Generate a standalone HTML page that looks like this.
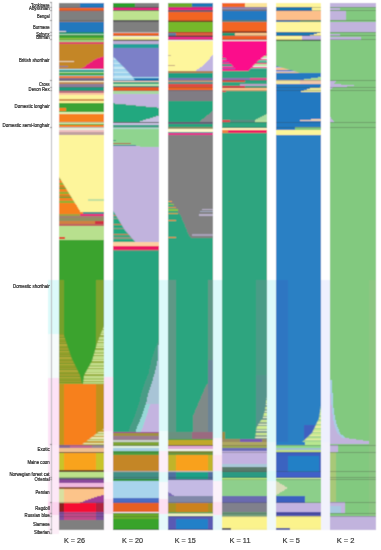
<!DOCTYPE html>
<html><head><meta charset="utf-8"><style>
html,body{margin:0;padding:0;background:#fff;width:381px;height:550px;overflow:hidden}
svg{display:block}
.lab text{font-family:"Liberation Sans",sans-serif;font-size:5.1px;fill:#202020;stroke:#202020;stroke-width:0.2px}
.kl text{font-family:"Liberation Sans",sans-serif;font-size:7.5px;fill:#333;stroke:#333;stroke-width:0.2px}
</style></head><body>
<svg width="381" height="550" viewBox="0 0 381 550" shape-rendering="crispEdges">
<defs><filter id="bl" x="0" y="0" width="1" height="1"><feConvolveMatrix order="3" kernelMatrix="0.0938 0.3062 0.0938 0.3062 1.0000 0.3062 0.0938 0.3062 0.0938" divisor="2.6000" edgeMode="duplicate" preserveAlpha="true"/></filter></defs>
<g filter="url(#bl)">
<rect width="381" height="550" fill="#fff"/>
<g><rect x="47.5" y="280" width="11.6" height="54" fill="#dcfafa"/>
<rect x="47.5" y="334" width="11.6" height="44" fill="#f6fbfb"/>
<rect x="47.5" y="378" width="11.6" height="67" fill="#fde2f6"/>
<rect x="47.5" y="445" width="11.6" height="57" fill="#fde8f7"/>
<rect x="47.5" y="502" width="11.6" height="13" fill="#fcd4ee"/>
<rect x="47.5" y="515" width="11.6" height="19" fill="#fdeef8"/>
<rect x="104.3" y="280" width="9.0" height="97" fill="#dcfafa"/>
<rect x="104.3" y="377" width="9.0" height="54" fill="#fde2f6"/>
<rect x="104.3" y="431" width="9.0" height="41" fill="#fdf2fa"/>
<rect x="104.3" y="472" width="9.0" height="10" fill="#fafafa"/>
<rect x="104.3" y="482" width="9.0" height="17" fill="#fdeef8"/>
<rect x="104.3" y="499" width="9.0" height="15" fill="#fcdcf0"/>
<rect x="104.3" y="514" width="9.0" height="16" fill="#fdf8fc"/>
<rect x="158.5" y="280" width="9.3" height="151" fill="#dcfafa"/>
<rect x="158.5" y="431" width="9.3" height="20" fill="#eefbfb"/>
<rect x="158.5" y="451" width="9.3" height="21" fill="#fdeef8"/>
<rect x="158.5" y="472" width="9.3" height="10" fill="#e0fafa"/>
<rect x="158.5" y="482" width="9.3" height="17" fill="#f8f8fc"/>
<rect x="158.5" y="499" width="9.3" height="15" fill="#fde0f2"/>
<rect x="158.5" y="514" width="9.3" height="16" fill="#e6fafb"/>
<rect x="213.0" y="280" width="8.9" height="158" fill="#dcfafa"/>
<rect x="213.0" y="438" width="8.9" height="17" fill="#fbf4fa"/>
<rect x="213.0" y="455" width="8.9" height="16" fill="#fde6f4"/>
<rect x="213.0" y="471" width="8.9" height="10" fill="#dcfafa"/>
<rect x="213.0" y="481" width="8.9" height="21" fill="#fcf2fa"/>
<rect x="213.0" y="502" width="8.9" height="13" fill="#fde0f2"/>
<rect x="213.0" y="515" width="8.9" height="15" fill="#e4f8fa"/>
<rect x="267.1" y="280" width="8.9" height="162" fill="#dcfafa"/>
<rect x="267.1" y="442" width="8.9" height="29" fill="#eaf8fa"/>
<rect x="267.1" y="471" width="8.9" height="10" fill="#dcfafa"/>
<rect x="267.1" y="481" width="8.9" height="49" fill="#f0f8fa"/>
<rect x="321.2" y="280" width="9.1" height="162" fill="#eef0fe"/>
<rect x="321.2" y="442" width="9.1" height="88" fill="#f2f2fc"/></g>
<rect x="51" y="2.9" width="1" height="530.8" fill="#b4b4b8"/>
<g><rect x="50.2" y="2.45" width="1.8" height="0.9" fill="#6a6a6a"/>
<rect x="50.2" y="6.65" width="1.8" height="0.9" fill="#6a6a6a"/>
<rect x="50.2" y="9.65" width="1.8" height="0.9" fill="#6a6a6a"/>
<rect x="50.2" y="20.35" width="1.8" height="0.9" fill="#6a6a6a"/>
<rect x="50.2" y="32.15" width="1.8" height="0.9" fill="#6a6a6a"/>
<rect x="50.2" y="35.45" width="1.8" height="0.9" fill="#6a6a6a"/>
<rect x="50.2" y="39.45" width="1.8" height="0.9" fill="#6a6a6a"/>
<rect x="50.2" y="80.15" width="1.8" height="0.9" fill="#6a6a6a"/>
<rect x="50.2" y="86.75" width="1.8" height="0.9" fill="#6a6a6a"/>
<rect x="50.2" y="90.35" width="1.8" height="0.9" fill="#6a6a6a"/>
<rect x="50.2" y="121.55" width="1.8" height="0.9" fill="#6a6a6a"/>
<rect x="50.2" y="126.85" width="1.8" height="0.9" fill="#6a6a6a"/>
<rect x="50.2" y="444.35" width="1.8" height="0.9" fill="#6a6a6a"/>
<rect x="50.2" y="451.55" width="1.8" height="0.9" fill="#6a6a6a"/>
<rect x="50.2" y="470.55" width="1.8" height="0.9" fill="#6a6a6a"/>
<rect x="50.2" y="477.05" width="1.8" height="0.9" fill="#6a6a6a"/>
<rect x="50.2" y="479.15" width="1.8" height="0.9" fill="#6a6a6a"/>
<rect x="50.2" y="501.85" width="1.8" height="0.9" fill="#6a6a6a"/>
<rect x="50.2" y="512.95" width="1.8" height="0.9" fill="#6a6a6a"/>
<rect x="50.2" y="515.85" width="1.8" height="0.9" fill="#6a6a6a"/>
<rect x="50.2" y="529.05" width="1.8" height="0.9" fill="#6a6a6a"/>
<rect x="50.2" y="533.05" width="1.8" height="0.9" fill="#6a6a6a"/></g>
<g><rect x="59.10" y="2.90" width="45.20" height="4.60" fill="#7f7f7f"/>
<rect x="80.30" y="2.90" width="24.00" height="4.60" fill="#2178bd"/>
<rect x="59.10" y="7.50" width="45.20" height="3.00" fill="#f26522"/>
<rect x="59.10" y="10.50" width="45.20" height="1.50" fill="#86787f"/>
<rect x="59.10" y="12.00" width="45.20" height="8.50" fill="#7f7f7f"/>
<rect x="59.10" y="20.50" width="45.20" height="1.30" fill="#8a7a70"/>
<rect x="59.10" y="21.80" width="45.20" height="8.70" fill="#2178bd"/>
<rect x="59.10" y="30.50" width="45.20" height="1.80" fill="#2178bd"/>
<rect x="59.10" y="30.50" width="6.90" height="1.80" fill="#d8d0d8"/>
<rect x="59.10" y="32.30" width="45.20" height="1.40" fill="#1fa080"/>
<rect x="59.10" y="33.70" width="45.20" height="1.30" fill="#a8d8a8"/>
<rect x="59.10" y="35.00" width="45.20" height="2.80" fill="#3aa335"/>
<rect x="59.10" y="37.80" width="45.20" height="2.20" fill="#8cc63f"/>
<rect x="59.10" y="40.00" width="45.20" height="2.20" fill="#9ed080"/>
<rect x="59.10" y="42.20" width="45.20" height="1.40" fill="#e0406a"/>
<rect x="59.10" y="43.60" width="45.20" height="25.60" fill="#c48628"/>
<rect x="59.10" y="69.20" width="45.20" height="1.10" fill="#a8e0f0"/>
<rect x="59.10" y="70.30" width="45.20" height="1.30" fill="#1a9a8a"/>
<rect x="59.10" y="71.60" width="45.20" height="1.10" fill="#b0e0a0"/>
<rect x="59.10" y="72.70" width="45.20" height="2.30" fill="#3aa335"/>
<rect x="59.10" y="75.00" width="45.20" height="1.30" fill="#70c0c0"/>
<rect x="59.10" y="76.30" width="45.20" height="1.90" fill="#f08030"/>
<rect x="59.10" y="78.20" width="45.20" height="2.30" fill="#7a6a8a"/>
<rect x="59.10" y="80.50" width="45.20" height="1.80" fill="#fff8d0"/>
<rect x="59.10" y="82.30" width="45.20" height="2.10" fill="#c08850"/>
<rect x="59.10" y="84.40" width="45.20" height="2.20" fill="#8a7a9a"/>
<rect x="59.10" y="86.60" width="45.20" height="4.40" fill="#1a9e80"/>
<rect x="59.10" y="91.00" width="45.20" height="2.20" fill="#c07080"/>
<rect x="59.10" y="93.20" width="45.20" height="2.10" fill="#fcc8a0"/>
<rect x="59.10" y="95.30" width="45.20" height="3.70" fill="#fdf59b"/>
<rect x="59.10" y="99.00" width="45.20" height="1.90" fill="#d09050"/>
<rect x="59.10" y="100.90" width="45.20" height="1.70" fill="#fdf59b"/>
<rect x="59.10" y="102.60" width="45.20" height="9.40" fill="#3aa335"/>
<rect x="59.10" y="112.00" width="45.20" height="1.50" fill="#e0f0b0"/>
<rect x="59.10" y="113.50" width="45.20" height="8.00" fill="#f7801c"/>
<rect x="59.10" y="121.50" width="45.20" height="2.20" fill="#d8f0b0"/>
<rect x="59.10" y="123.70" width="45.20" height="1.40" fill="#3aa335"/>
<rect x="59.10" y="125.10" width="45.20" height="2.20" fill="#f7801c"/>
<rect x="59.10" y="127.30" width="45.20" height="2.20" fill="#e8f0e0"/>
<rect x="59.10" y="129.50" width="45.20" height="2.90" fill="#f0c0c0"/>
<rect x="59.10" y="132.40" width="45.20" height="2.20" fill="#c0a0a0"/>
<rect x="59.10" y="134.60" width="45.20" height="77.20" fill="#fdf59b"/>
<rect x="59.10" y="211.80" width="45.20" height="2.20" fill="#178f8f"/>
<rect x="59.10" y="211.80" width="23.90" height="2.20" fill="#f7801c"/>
<rect x="59.10" y="214.00" width="45.20" height="2.00" fill="#e8177d"/>
<rect x="59.10" y="214.00" width="20.90" height="2.00" fill="#a0a040"/>
<rect x="59.10" y="216.00" width="45.20" height="2.30" fill="#a08070"/>
<rect x="59.10" y="218.30" width="45.20" height="2.90" fill="#909060"/>
<rect x="59.10" y="221.20" width="45.20" height="2.80" fill="#d08040"/>
<rect x="95.00" y="221.20" width="9.30" height="2.80" fill="#d03040"/>
<rect x="59.10" y="224.00" width="45.20" height="1.60" fill="#c06060"/>
<rect x="59.10" y="225.60" width="45.20" height="0.40" fill="#c08040"/>
<rect x="59.10" y="226.00" width="45.20" height="13.50" fill="#b8e08e"/>
<rect x="59.10" y="239.50" width="45.20" height="144.20" fill="#3ba32f"/>
<rect x="59.10" y="383.70" width="45.20" height="61.10" fill="#f7801c"/>
<rect x="59.10" y="383.70" width="4.40" height="61.10" fill="#c0961f"/>
<rect x="96.20" y="383.70" width="8.10" height="61.10" fill="#c0921e"/>
<rect x="59.10" y="444.80" width="45.20" height="2.90" fill="#c06a98"/>
<rect x="59.10" y="444.80" width="10.90" height="2.90" fill="#8a6a9a"/>
<rect x="92.00" y="444.80" width="12.30" height="2.90" fill="#9a8a9a"/>
<rect x="59.10" y="447.70" width="45.20" height="4.30" fill="#f0c090"/>
<rect x="59.10" y="452.00" width="45.20" height="1.00" fill="#806040"/>
<rect x="59.10" y="453.00" width="45.20" height="17.00" fill="#f9a31b"/>
<rect x="59.10" y="453.00" width="4.90" height="17.00" fill="#c8c42a"/>
<rect x="95.60" y="453.00" width="8.70" height="17.00" fill="#c8c42a"/>
<rect x="59.10" y="470.00" width="45.20" height="1.60" fill="#704820"/>
<rect x="59.10" y="471.60" width="45.20" height="6.20" fill="#bce28a"/>
<rect x="59.10" y="477.80" width="45.20" height="1.50" fill="#506070"/>
<rect x="59.10" y="479.30" width="45.20" height="3.90" fill="#8a4a9c"/>
<rect x="59.10" y="483.20" width="45.20" height="3.80" fill="#f0b8e0"/>
<rect x="59.10" y="487.00" width="45.20" height="1.60" fill="#905030"/>
<rect x="59.10" y="488.60" width="45.20" height="13.90" fill="#fcc48a"/>
<rect x="59.10" y="488.60" width="4.90" height="13.90" fill="#d8e0a0"/>
<rect x="59.10" y="502.50" width="45.20" height="0.70" fill="#801020"/>
<rect x="59.10" y="503.20" width="45.20" height="8.50" fill="#f50f33"/>
<rect x="59.10" y="503.20" width="4.90" height="8.50" fill="#8b2020"/>
<rect x="96.00" y="503.20" width="8.30" height="8.50" fill="#b02040"/>
<rect x="59.10" y="511.70" width="45.20" height="8.50" fill="#c04a8a"/>
<rect x="59.10" y="511.70" width="4.90" height="8.50" fill="#8050a0"/>
<rect x="96.00" y="511.70" width="8.30" height="8.50" fill="#8050a0"/>
<rect x="59.10" y="520.20" width="45.20" height="9.30" fill="#7f7f7f"/>
<rect x="59.10" y="529.50" width="45.20" height="0.50" fill="#505050"/>
<polygon points="104.30,56.00 97.00,58.50 92.60,61.00 88.00,64.00 84.00,67.00 80.00,69.20 104.30,69.20" fill="#ec1a78"/>
<rect x="59.10" y="55.50" width="6.90" height="0.80" fill="#e8c8a0"/>
<rect x="59.10" y="58.50" width="10.90" height="0.80" fill="#e0b890"/>
<rect x="59.10" y="61.00" width="14.90" height="0.80" fill="#e8d0b0"/>
<rect x="59.10" y="63.50" width="12.90" height="0.80" fill="#d8a890"/>
<rect x="59.10" y="66.00" width="8.90" height="0.80" fill="#8a7aa0"/>
<rect x="88.00" y="199.40" width="16.30" height="1.60" fill="#c0e0a0"/>
<clipPath id="c89"><polygon points="59.10,177.00 80.30,211.80 59.10,211.80"/></clipPath><g clip-path="url(#c89)">
<rect x="59.10" y="177.00" width="45.20" height="1.50" fill="#c48628"/>
<rect x="59.10" y="178.50" width="45.20" height="1.50" fill="#3aa335"/>
<rect x="59.10" y="180.00" width="45.20" height="1.50" fill="#f7801c"/>
<rect x="59.10" y="181.50" width="45.20" height="1.50" fill="#e08a30"/>
<rect x="59.10" y="183.00" width="45.20" height="1.50" fill="#8cb030"/>
<rect x="59.10" y="184.50" width="45.20" height="1.50" fill="#f7801c"/>
<rect x="59.10" y="186.00" width="45.20" height="1.50" fill="#c48628"/>
<rect x="59.10" y="187.50" width="45.20" height="1.50" fill="#3aa335"/>
<rect x="59.10" y="189.00" width="45.20" height="1.50" fill="#f7801c"/>
<rect x="59.10" y="190.50" width="45.20" height="1.50" fill="#e08a30"/>
<rect x="59.10" y="192.00" width="45.20" height="1.50" fill="#8cb030"/>
<rect x="59.10" y="193.50" width="45.20" height="1.50" fill="#f7801c"/>
<rect x="59.10" y="195.00" width="45.20" height="1.50" fill="#c48628"/>
<rect x="59.10" y="196.50" width="45.20" height="1.50" fill="#3aa335"/>
<rect x="59.10" y="198.00" width="45.20" height="1.50" fill="#f7801c"/>
<rect x="59.10" y="199.50" width="45.20" height="1.50" fill="#e08a30"/>
<rect x="59.10" y="201.00" width="45.20" height="1.50" fill="#8cb030"/>
<rect x="59.10" y="202.50" width="45.20" height="1.50" fill="#f7801c"/>
<rect x="59.10" y="204.00" width="45.20" height="1.50" fill="#c48628"/>
<rect x="59.10" y="205.50" width="45.20" height="1.50" fill="#3aa335"/>
<rect x="59.10" y="207.00" width="45.20" height="1.50" fill="#f7801c"/>
<rect x="59.10" y="208.50" width="45.20" height="1.50" fill="#e08a30"/>
<rect x="59.10" y="210.00" width="45.20" height="1.50" fill="#8cb030"/>
<rect x="59.10" y="211.50" width="45.20" height="0.30" fill="#f7801c"/>
</g>
<polygon points="59.10,203.00 75.00,203.00 80.30,211.80 59.10,211.80" fill="#f7801c"/>
<rect x="59.10" y="108.40" width="6.90" height="2.90" fill="#f7801c"/>
<rect x="59.10" y="236.60" width="5.90" height="2.20" fill="#e02020"/>
<rect x="59.10" y="280.00" width="4.90" height="103.70" fill="#76a02c"/>
<rect x="96.30" y="280.00" width="8.00" height="103.70" fill="#7ca22e"/>
<clipPath id="c120"><polygon points="63.40,334.00 71.50,358.00 80.00,375.60 82.00,383.70 59.10,383.70 59.10,334.00"/></clipPath><g clip-path="url(#c120)">
<rect x="59.10" y="334.00" width="45.20" height="1.30" fill="#8a9a28"/>
<rect x="59.10" y="335.30" width="45.20" height="1.30" fill="#a0a030"/>
<rect x="59.10" y="336.60" width="45.20" height="1.30" fill="#7a9a28"/>
<rect x="59.10" y="337.90" width="45.20" height="1.30" fill="#b0a838"/>
<rect x="59.10" y="339.20" width="45.20" height="1.30" fill="#90a02a"/>
<rect x="59.10" y="340.50" width="45.20" height="1.30" fill="#8a9a28"/>
<rect x="59.10" y="341.80" width="45.20" height="1.30" fill="#a0a030"/>
<rect x="59.10" y="343.10" width="45.20" height="1.30" fill="#7a9a28"/>
<rect x="59.10" y="344.40" width="45.20" height="1.30" fill="#b0a838"/>
<rect x="59.10" y="345.70" width="45.20" height="1.30" fill="#90a02a"/>
<rect x="59.10" y="347.00" width="45.20" height="1.30" fill="#8a9a28"/>
<rect x="59.10" y="348.30" width="45.20" height="1.30" fill="#a0a030"/>
<rect x="59.10" y="349.60" width="45.20" height="1.30" fill="#7a9a28"/>
<rect x="59.10" y="350.90" width="45.20" height="1.30" fill="#b0a838"/>
<rect x="59.10" y="352.20" width="45.20" height="1.30" fill="#90a02a"/>
<rect x="59.10" y="353.50" width="45.20" height="1.30" fill="#8a9a28"/>
<rect x="59.10" y="354.80" width="45.20" height="1.30" fill="#a0a030"/>
<rect x="59.10" y="356.10" width="45.20" height="1.30" fill="#7a9a28"/>
<rect x="59.10" y="357.40" width="45.20" height="1.30" fill="#b0a838"/>
<rect x="59.10" y="358.70" width="45.20" height="1.30" fill="#90a02a"/>
<rect x="59.10" y="360.00" width="45.20" height="1.30" fill="#8a9a28"/>
<rect x="59.10" y="361.30" width="45.20" height="1.30" fill="#a0a030"/>
<rect x="59.10" y="362.60" width="45.20" height="1.30" fill="#7a9a28"/>
<rect x="59.10" y="363.90" width="45.20" height="1.30" fill="#b0a838"/>
<rect x="59.10" y="365.20" width="45.20" height="1.30" fill="#90a02a"/>
<rect x="59.10" y="366.50" width="45.20" height="1.30" fill="#8a9a28"/>
<rect x="59.10" y="367.80" width="45.20" height="1.30" fill="#a0a030"/>
<rect x="59.10" y="369.10" width="45.20" height="1.30" fill="#7a9a28"/>
<rect x="59.10" y="370.40" width="45.20" height="1.30" fill="#b0a838"/>
<rect x="59.10" y="371.70" width="45.20" height="1.30" fill="#90a02a"/>
<rect x="59.10" y="373.00" width="45.20" height="1.30" fill="#8a9a28"/>
<rect x="59.10" y="374.30" width="45.20" height="1.30" fill="#a0a030"/>
<rect x="59.10" y="375.60" width="45.20" height="1.30" fill="#7a9a28"/>
<rect x="59.10" y="376.90" width="45.20" height="1.30" fill="#b0a838"/>
<rect x="59.10" y="378.20" width="45.20" height="1.30" fill="#90a02a"/>
<rect x="59.10" y="379.50" width="45.20" height="1.30" fill="#8a9a28"/>
<rect x="59.10" y="380.80" width="45.20" height="1.30" fill="#a0a030"/>
<rect x="59.10" y="382.10" width="45.20" height="1.30" fill="#7a9a28"/>
<rect x="59.10" y="383.40" width="45.20" height="0.30" fill="#b0a838"/>
</g>
<clipPath id="c161"><polygon points="104.30,325.00 97.00,343.60 92.00,361.00 84.00,375.60 83.00,383.70 104.30,383.70"/></clipPath><g clip-path="url(#c161)">
<rect x="59.10" y="325.00" width="45.20" height="1.30" fill="#c8e090"/>
<rect x="59.10" y="326.30" width="45.20" height="1.30" fill="#a8c868"/>
<rect x="59.10" y="327.60" width="45.20" height="1.30" fill="#d8e8a0"/>
<rect x="59.10" y="328.90" width="45.20" height="1.30" fill="#98b040"/>
<rect x="59.10" y="330.20" width="45.20" height="1.30" fill="#c0dc88"/>
<rect x="59.10" y="331.50" width="45.20" height="1.30" fill="#c8e090"/>
<rect x="59.10" y="332.80" width="45.20" height="1.30" fill="#a8c868"/>
<rect x="59.10" y="334.10" width="45.20" height="1.30" fill="#d8e8a0"/>
<rect x="59.10" y="335.40" width="45.20" height="1.30" fill="#98b040"/>
<rect x="59.10" y="336.70" width="45.20" height="1.30" fill="#c0dc88"/>
<rect x="59.10" y="338.00" width="45.20" height="1.30" fill="#c8e090"/>
<rect x="59.10" y="339.30" width="45.20" height="1.30" fill="#a8c868"/>
<rect x="59.10" y="340.60" width="45.20" height="1.30" fill="#d8e8a0"/>
<rect x="59.10" y="341.90" width="45.20" height="1.30" fill="#98b040"/>
<rect x="59.10" y="343.20" width="45.20" height="1.30" fill="#c0dc88"/>
<rect x="59.10" y="344.50" width="45.20" height="1.30" fill="#c8e090"/>
<rect x="59.10" y="345.80" width="45.20" height="1.30" fill="#a8c868"/>
<rect x="59.10" y="347.10" width="45.20" height="1.30" fill="#d8e8a0"/>
<rect x="59.10" y="348.40" width="45.20" height="1.30" fill="#98b040"/>
<rect x="59.10" y="349.70" width="45.20" height="1.30" fill="#c0dc88"/>
<rect x="59.10" y="351.00" width="45.20" height="1.30" fill="#c8e090"/>
<rect x="59.10" y="352.30" width="45.20" height="1.30" fill="#a8c868"/>
<rect x="59.10" y="353.60" width="45.20" height="1.30" fill="#d8e8a0"/>
<rect x="59.10" y="354.90" width="45.20" height="1.30" fill="#98b040"/>
<rect x="59.10" y="356.20" width="45.20" height="1.30" fill="#c0dc88"/>
<rect x="59.10" y="357.50" width="45.20" height="1.30" fill="#c8e090"/>
<rect x="59.10" y="358.80" width="45.20" height="1.30" fill="#a8c868"/>
<rect x="59.10" y="360.10" width="45.20" height="1.30" fill="#d8e8a0"/>
<rect x="59.10" y="361.40" width="45.20" height="1.30" fill="#98b040"/>
<rect x="59.10" y="362.70" width="45.20" height="1.30" fill="#c0dc88"/>
<rect x="59.10" y="364.00" width="45.20" height="1.30" fill="#c8e090"/>
<rect x="59.10" y="365.30" width="45.20" height="1.30" fill="#a8c868"/>
<rect x="59.10" y="366.60" width="45.20" height="1.30" fill="#d8e8a0"/>
<rect x="59.10" y="367.90" width="45.20" height="1.30" fill="#98b040"/>
<rect x="59.10" y="369.20" width="45.20" height="1.30" fill="#c0dc88"/>
<rect x="59.10" y="370.50" width="45.20" height="1.30" fill="#c8e090"/>
<rect x="59.10" y="371.80" width="45.20" height="1.30" fill="#a8c868"/>
<rect x="59.10" y="373.10" width="45.20" height="1.30" fill="#d8e8a0"/>
<rect x="59.10" y="374.40" width="45.20" height="1.30" fill="#98b040"/>
<rect x="59.10" y="375.70" width="45.20" height="1.30" fill="#c0dc88"/>
<rect x="59.10" y="377.00" width="45.20" height="1.30" fill="#c8e090"/>
<rect x="59.10" y="378.30" width="45.20" height="1.30" fill="#a8c868"/>
<rect x="59.10" y="379.60" width="45.20" height="1.30" fill="#d8e8a0"/>
<rect x="59.10" y="380.90" width="45.20" height="1.30" fill="#98b040"/>
<rect x="59.10" y="382.20" width="45.20" height="1.30" fill="#c0dc88"/>
<rect x="59.10" y="383.50" width="45.20" height="0.20" fill="#c8e090"/>
</g>
<clipPath id="c209"><polygon points="104.30,428.80 104.30,444.80 81.70,444.80 92.00,437.00 100.00,431.00"/></clipPath><g clip-path="url(#c209)">
<rect x="59.10" y="428.80" width="45.20" height="1.40" fill="#d8e0a0"/>
<rect x="59.10" y="430.20" width="45.20" height="1.40" fill="#c8a030"/>
<rect x="59.10" y="431.60" width="45.20" height="1.40" fill="#e8e8b0"/>
<rect x="59.10" y="433.00" width="45.20" height="1.40" fill="#b0c060"/>
<rect x="59.10" y="434.40" width="45.20" height="1.40" fill="#d8e0a0"/>
<rect x="59.10" y="435.80" width="45.20" height="1.40" fill="#c8a030"/>
<rect x="59.10" y="437.20" width="45.20" height="1.40" fill="#e8e8b0"/>
<rect x="59.10" y="438.60" width="45.20" height="1.40" fill="#b0c060"/>
<rect x="59.10" y="440.00" width="45.20" height="1.40" fill="#d8e0a0"/>
<rect x="59.10" y="441.40" width="45.20" height="1.40" fill="#c8a030"/>
<rect x="59.10" y="442.80" width="45.20" height="1.40" fill="#e8e8b0"/>
<rect x="59.10" y="444.20" width="45.20" height="0.60" fill="#b0c060"/>
</g>
<polygon points="104.30,494.50 104.30,502.50 80.00,502.50 92.00,498.00" fill="#a03c98"/>
<rect x="113.30" y="2.90" width="45.20" height="4.10" fill="#7f7f7f"/>
<rect x="113.30" y="2.90" width="21.70" height="4.10" fill="#2ca02c"/>
<rect x="113.30" y="7.00" width="45.20" height="1.00" fill="#604060"/>
<rect x="113.30" y="8.00" width="45.20" height="2.20" fill="#ec1a80"/>
<rect x="113.30" y="10.20" width="45.20" height="1.10" fill="#606060"/>
<rect x="113.30" y="11.30" width="45.20" height="9.00" fill="#bde38f"/>
<rect x="113.30" y="20.30" width="45.20" height="1.20" fill="#606060"/>
<rect x="113.30" y="21.50" width="45.20" height="10.80" fill="#7f7f7f"/>
<rect x="113.30" y="32.30" width="45.20" height="1.10" fill="#e8e8e8"/>
<rect x="113.30" y="33.40" width="45.20" height="2.60" fill="#f26522"/>
<rect x="113.30" y="36.00" width="45.20" height="1.00" fill="#f0f0e0"/>
<rect x="113.30" y="37.00" width="45.20" height="3.00" fill="#fbf59a"/>
<rect x="113.30" y="40.00" width="45.20" height="1.40" fill="#505050"/>
<rect x="113.30" y="41.40" width="45.20" height="2.20" fill="#bcaed6"/>
<rect x="113.30" y="43.60" width="45.20" height="4.40" fill="#22a09a"/>
<rect x="113.30" y="48.00" width="45.20" height="28.50" fill="#7c80c8"/>
<rect x="113.30" y="76.50" width="45.20" height="1.50" fill="#a8dcf0"/>
<rect x="113.30" y="78.00" width="45.20" height="2.50" fill="#1f78b4"/>
<rect x="113.30" y="80.50" width="45.20" height="1.80" fill="#f8d0c0"/>
<rect x="113.30" y="82.30" width="45.20" height="1.70" fill="#30a080"/>
<rect x="113.30" y="84.00" width="45.20" height="1.50" fill="#b8e8b0"/>
<rect x="113.30" y="85.50" width="45.20" height="1.90" fill="#207f80"/>
<rect x="113.30" y="87.40" width="45.20" height="3.30" fill="#f15a24"/>
<rect x="113.30" y="90.70" width="45.20" height="2.90" fill="#a8d8a0"/>
<rect x="113.30" y="93.60" width="45.20" height="9.70" fill="#c1b3dd"/>
<rect x="113.30" y="103.30" width="45.20" height="18.20" fill="#22a87f"/>
<rect x="113.30" y="121.50" width="45.20" height="1.50" fill="#607070"/>
<rect x="113.30" y="123.00" width="45.20" height="2.00" fill="#c8c0e0"/>
<rect x="113.30" y="125.00" width="45.20" height="2.30" fill="#22a080"/>
<rect x="113.30" y="127.30" width="45.20" height="1.50" fill="#b0e0d0"/>
<rect x="113.30" y="128.80" width="45.20" height="17.40" fill="#8fd48f"/>
<rect x="113.30" y="146.20" width="45.20" height="96.20" fill="#c1b3dd"/>
<rect x="113.30" y="242.40" width="45.20" height="3.60" fill="#fdd0a2"/>
<rect x="113.30" y="246.00" width="45.20" height="3.70" fill="#ec1464"/>
<rect x="113.30" y="249.70" width="45.20" height="1.30" fill="#709080"/>
<rect x="113.30" y="251.00" width="45.20" height="180.70" fill="#28a47e"/>
<rect x="113.30" y="431.70" width="45.20" height="1.30" fill="#a04090"/>
<rect x="113.30" y="433.00" width="45.20" height="3.00" fill="#a09040"/>
<rect x="113.30" y="436.00" width="45.20" height="3.70" fill="#9a7a90"/>
<rect x="113.30" y="439.70" width="45.20" height="2.20" fill="#c8d0c8"/>
<rect x="113.30" y="441.90" width="45.20" height="4.30" fill="#7fa535"/>
<rect x="113.30" y="446.20" width="45.20" height="1.50" fill="#e0f0e0"/>
<rect x="113.30" y="447.70" width="45.20" height="3.60" fill="#a6cee3"/>
<rect x="113.30" y="451.30" width="45.20" height="4.10" fill="#4aa040"/>
<rect x="113.30" y="455.40" width="45.20" height="15.40" fill="#c48628"/>
<rect x="113.30" y="470.80" width="45.20" height="1.60" fill="#d0d8d0"/>
<rect x="113.30" y="472.40" width="45.20" height="6.10" fill="#3f8f86"/>
<rect x="113.30" y="478.50" width="45.20" height="2.40" fill="#2ca02c"/>
<rect x="113.30" y="480.90" width="45.20" height="16.90" fill="#a8d4ec"/>
<rect x="113.30" y="497.80" width="45.20" height="4.70" fill="#4a6cc4"/>
<rect x="113.30" y="502.50" width="45.20" height="9.20" fill="#e55e20"/>
<rect x="113.30" y="511.70" width="45.20" height="1.60" fill="#f0f0f0"/>
<rect x="113.30" y="513.30" width="45.20" height="6.10" fill="#6aac2a"/>
<rect x="113.30" y="519.40" width="45.20" height="9.30" fill="#39a32c"/>
<rect x="113.30" y="528.70" width="45.20" height="1.30" fill="#207020"/>
<clipPath id="c279"><polygon points="113.30,56.70 124.80,68.30 132.80,77.00 135.00,80.50 113.30,80.50"/></clipPath><g clip-path="url(#c279)">
<rect x="113.30" y="56.70" width="45.20" height="1.50" fill="#a6d8ee"/>
<rect x="113.30" y="58.20" width="45.20" height="1.50" fill="#c8e8f4"/>
<rect x="113.30" y="59.70" width="45.20" height="1.50" fill="#98d0ec"/>
<rect x="113.30" y="61.20" width="45.20" height="1.50" fill="#a6d8ee"/>
<rect x="113.30" y="62.70" width="45.20" height="1.50" fill="#c8e8f4"/>
<rect x="113.30" y="64.20" width="45.20" height="1.50" fill="#98d0ec"/>
<rect x="113.30" y="65.70" width="45.20" height="1.50" fill="#a6d8ee"/>
<rect x="113.30" y="67.20" width="45.20" height="1.50" fill="#c8e8f4"/>
<rect x="113.30" y="68.70" width="45.20" height="1.50" fill="#98d0ec"/>
<rect x="113.30" y="70.20" width="45.20" height="1.50" fill="#a6d8ee"/>
<rect x="113.30" y="71.70" width="45.20" height="1.50" fill="#c8e8f4"/>
<rect x="113.30" y="73.20" width="45.20" height="1.50" fill="#98d0ec"/>
<rect x="113.30" y="74.70" width="45.20" height="1.50" fill="#a6d8ee"/>
<rect x="113.30" y="76.20" width="45.20" height="1.50" fill="#c8e8f4"/>
<rect x="113.30" y="77.70" width="45.20" height="1.50" fill="#98d0ec"/>
<rect x="113.30" y="79.20" width="45.20" height="1.30" fill="#a6d8ee"/>
</g>
<polygon points="113.30,103.30 158.50,107.70 158.50,103.30" fill="#c1b3dd"/>
<polygon points="158.50,115.70 158.50,121.50 140.00,121.50" fill="#c8c0e0"/>
<rect x="113.30" y="140.20" width="2.70" height="0.70" fill="#3a9a80"/>
<rect x="113.30" y="143.40" width="17.70" height="1.00" fill="#b05a50"/>
<rect x="113.30" y="144.60" width="22.70" height="1.20" fill="#3a8a9a"/>
<rect x="140.00" y="146.20" width="18.50" height="1.10" fill="#8fd48f"/>
<clipPath id="c303"><polygon points="113.30,211.00 124.80,230.00 135.70,242.40 113.30,242.40"/></clipPath><g clip-path="url(#c303)">
<rect x="113.30" y="211.00" width="45.20" height="1.20" fill="#22a87f"/>
<rect x="113.30" y="212.20" width="45.20" height="1.20" fill="#22a87f"/>
<rect x="113.30" y="213.40" width="45.20" height="1.20" fill="#22a87f"/>
<rect x="113.30" y="214.60" width="45.20" height="1.20" fill="#c08050"/>
<rect x="113.30" y="215.80" width="45.20" height="1.20" fill="#22a87f"/>
<rect x="113.30" y="217.00" width="45.20" height="1.20" fill="#22a87f"/>
<rect x="113.30" y="218.20" width="45.20" height="1.20" fill="#8a9a80"/>
<rect x="113.30" y="219.40" width="45.20" height="1.20" fill="#22a87f"/>
<rect x="113.30" y="220.60" width="45.20" height="1.20" fill="#22a87f"/>
<rect x="113.30" y="221.80" width="45.20" height="1.20" fill="#22a87f"/>
<rect x="113.30" y="223.00" width="45.20" height="1.20" fill="#22a87f"/>
<rect x="113.30" y="224.20" width="45.20" height="1.20" fill="#c08050"/>
<rect x="113.30" y="225.40" width="45.20" height="1.20" fill="#22a87f"/>
<rect x="113.30" y="226.60" width="45.20" height="1.20" fill="#22a87f"/>
<rect x="113.30" y="227.80" width="45.20" height="1.20" fill="#8a9a80"/>
<rect x="113.30" y="229.00" width="45.20" height="1.20" fill="#22a87f"/>
<rect x="113.30" y="230.20" width="45.20" height="1.20" fill="#22a87f"/>
<rect x="113.30" y="231.40" width="45.20" height="1.20" fill="#22a87f"/>
<rect x="113.30" y="232.60" width="45.20" height="1.20" fill="#22a87f"/>
<rect x="113.30" y="233.80" width="45.20" height="1.20" fill="#c08050"/>
<rect x="113.30" y="235.00" width="45.20" height="1.20" fill="#22a87f"/>
<rect x="113.30" y="236.20" width="45.20" height="1.20" fill="#22a87f"/>
<rect x="113.30" y="237.40" width="45.20" height="1.20" fill="#8a9a80"/>
<rect x="113.30" y="238.60" width="45.20" height="1.20" fill="#22a87f"/>
<rect x="113.30" y="239.80" width="45.20" height="1.20" fill="#22a87f"/>
<rect x="113.30" y="241.00" width="45.20" height="1.20" fill="#22a87f"/>
<rect x="113.30" y="242.20" width="45.20" height="0.20" fill="#22a87f"/>
</g>
<polygon points="158.50,340.00 152.00,358.00 148.50,373.60 144.50,384.00 142.00,391.00 139.00,404.00 134.50,417.00 129.00,430.00 128.50,431.70 158.50,431.70" fill="#4a9c86"/>
<polygon points="158.50,345.00 157.80,360.00 154.70,373.60 151.50,384.00 149.00,391.00 146.00,404.00 158.50,404.00" fill="#a8c4d6"/>
<polygon points="146.00,404.00 141.50,417.00 136.00,430.00 135.50,431.70 158.50,431.70 158.50,404.00" fill="#c4b4e0"/>
<polygon points="146.00,404.00 141.50,417.00 136.00,430.00 135.50,431.70 141.00,431.70 146.00,418.00 150.00,404.00" fill="#98d8d8"/>
<rect x="167.80" y="2.90" width="45.20" height="4.40" fill="#1f78b4"/>
<rect x="167.80" y="2.90" width="24.20" height="4.40" fill="#6aac2a"/>
<rect x="167.80" y="7.30" width="45.20" height="2.60" fill="#ee1f85"/>
<rect x="167.80" y="9.90" width="45.20" height="1.70" fill="#706070"/>
<rect x="167.80" y="11.60" width="45.20" height="9.40" fill="#f26522"/>
<rect x="167.80" y="21.00" width="45.20" height="0.80" fill="#603020"/>
<rect x="167.80" y="21.80" width="45.20" height="10.20" fill="#76b82a"/>
<rect x="167.80" y="32.00" width="45.20" height="1.10" fill="#e02020"/>
<rect x="167.80" y="33.10" width="45.20" height="2.50" fill="#e06040"/>
<rect x="167.80" y="33.10" width="8.20" height="2.50" fill="#6080a0"/>
<rect x="167.80" y="35.60" width="45.20" height="1.40" fill="#503040"/>
<rect x="167.80" y="37.00" width="45.20" height="3.00" fill="#ec2a8a"/>
<rect x="167.80" y="40.00" width="45.20" height="1.40" fill="#f0f0f0"/>
<rect x="167.80" y="41.40" width="45.20" height="29.80" fill="#fef69c"/>
<rect x="167.80" y="71.20" width="45.20" height="2.20" fill="#b08050"/>
<rect x="167.80" y="73.40" width="45.20" height="4.40" fill="#1b9e80"/>
<rect x="167.80" y="77.80" width="45.20" height="2.20" fill="#7570b3"/>
<rect x="167.80" y="80.00" width="45.20" height="2.30" fill="#c8a080"/>
<rect x="167.80" y="82.30" width="45.20" height="2.10" fill="#40908a"/>
<rect x="167.80" y="84.40" width="45.20" height="3.00" fill="#e04a40"/>
<rect x="167.80" y="87.40" width="45.20" height="2.90" fill="#f26522"/>
<rect x="167.80" y="90.30" width="45.20" height="10.90" fill="#807c84"/>
<rect x="167.80" y="101.20" width="45.20" height="20.30" fill="#21a47c"/>
<rect x="167.80" y="121.50" width="45.20" height="2.20" fill="#6a6080"/>
<rect x="167.80" y="123.70" width="45.20" height="3.60" fill="#21a47c"/>
<rect x="167.80" y="127.30" width="45.20" height="1.50" fill="#a0a070"/>
<rect x="167.80" y="128.80" width="45.20" height="2.90" fill="#fffacd"/>
<rect x="167.80" y="131.70" width="45.20" height="1.40" fill="#2090a0"/>
<rect x="167.80" y="133.10" width="45.20" height="1.80" fill="#e7298a"/>
<rect x="167.80" y="134.90" width="45.20" height="102.90" fill="#808080"/>
<rect x="167.80" y="237.80" width="45.20" height="193.90" fill="#2aa57f"/>
<rect x="167.80" y="431.70" width="45.20" height="7.30" fill="#9a6a80"/>
<rect x="167.80" y="431.70" width="24.20" height="7.30" fill="#6a9080"/>
<rect x="167.80" y="439.00" width="45.20" height="1.40" fill="#40a040"/>
<rect x="167.80" y="440.40" width="45.20" height="4.40" fill="#c0a82a"/>
<rect x="167.80" y="444.80" width="45.20" height="1.40" fill="#8a7030"/>
<rect x="167.80" y="446.20" width="45.20" height="2.80" fill="#e0a8d8"/>
<rect x="167.80" y="449.00" width="45.20" height="1.60" fill="#f0f0e8"/>
<rect x="167.80" y="450.60" width="45.20" height="2.40" fill="#8a9a30"/>
<rect x="167.80" y="453.00" width="45.20" height="2.40" fill="#6a9a40"/>
<rect x="167.80" y="455.40" width="45.20" height="15.40" fill="#f9a11b"/>
<rect x="167.80" y="455.40" width="8.00" height="15.40" fill="#c0b42a"/>
<rect x="208.20" y="455.40" width="4.80" height="15.40" fill="#c0b42a"/>
<rect x="167.80" y="470.80" width="45.20" height="1.60" fill="#f0f0f0"/>
<rect x="167.80" y="472.40" width="45.20" height="6.10" fill="#1fa088"/>
<rect x="167.80" y="472.40" width="8.00" height="6.10" fill="#5070a0"/>
<rect x="208.20" y="472.40" width="4.80" height="6.10" fill="#5070a0"/>
<rect x="167.80" y="478.50" width="45.20" height="1.50" fill="#5060a0"/>
<rect x="167.80" y="480.00" width="45.20" height="16.30" fill="#c4bae4"/>
<rect x="167.80" y="496.30" width="45.20" height="6.20" fill="#8088a8"/>
<rect x="167.80" y="502.50" width="45.20" height="9.20" fill="#cc821f"/>
<rect x="167.80" y="502.50" width="8.00" height="9.20" fill="#a89020"/>
<rect x="208.20" y="502.50" width="4.80" height="9.20" fill="#a89020"/>
<rect x="167.80" y="511.70" width="45.20" height="1.60" fill="#40a040"/>
<rect x="167.80" y="513.30" width="45.20" height="2.30" fill="#f0f8c0"/>
<rect x="167.80" y="515.60" width="45.20" height="3.80" fill="#5a5ab4"/>
<rect x="167.80" y="519.40" width="45.20" height="9.30" fill="#2080c8"/>
<rect x="167.80" y="519.40" width="8.00" height="9.30" fill="#5a5ab4"/>
<rect x="208.20" y="519.40" width="4.80" height="9.30" fill="#5a5ab4"/>
<rect x="167.80" y="528.70" width="45.20" height="1.30" fill="#303080"/>
<polygon points="213.00,54.00 210.00,58.00 208.00,61.00 201.00,67.00 195.00,71.20 213.00,71.20" fill="#c0b4e0"/>
<rect x="200.00" y="63.50" width="13.00" height="0.70" fill="#e0dcf0"/>
<rect x="167.80" y="55.00" width="3.20" height="0.80" fill="#c8b890"/>
<rect x="167.80" y="60.50" width="8.20" height="0.80" fill="#b8a8a0"/>
<rect x="167.80" y="62.50" width="10.20" height="0.80" fill="#a8a0b0"/>
<rect x="167.80" y="65.00" width="7.20" height="0.80" fill="#c8a880"/>
<rect x="167.80" y="67.50" width="12.20" height="0.80" fill="#b0a8c0"/>
<polygon points="167.80,199.40 180.50,215.00 186.00,227.80 189.00,235.70 191.00,237.80 167.80,237.80" fill="#2aa57f"/>
<polygon points="213.00,111.00 213.00,121.50 200.00,121.50" fill="#8a8a90"/>
<rect x="167.80" y="201.00" width="4.20" height="1.20" fill="#f0a040"/>
<rect x="167.80" y="203.50" width="6.20" height="1.50" fill="#8cc63f"/>
<rect x="167.80" y="206.50" width="8.20" height="1.00" fill="#e09040"/>
<rect x="167.80" y="209.00" width="10.20" height="1.50" fill="#8cc63f"/>
<rect x="167.80" y="213.00" width="10.20" height="1.00" fill="#d0a040"/>
<rect x="167.80" y="220.00" width="8.20" height="1.00" fill="#e09040"/>
<rect x="167.80" y="236.50" width="8.20" height="1.00" fill="#e09040"/>
<rect x="202.00" y="208.50" width="11.00" height="1.00" fill="#b8b0c8"/>
<rect x="200.00" y="211.00" width="13.00" height="1.00" fill="#a0a8c0"/>
<rect x="199.00" y="214.00" width="14.00" height="1.50" fill="#b8b0c8"/>
<rect x="192.00" y="233.50" width="21.00" height="2.00" fill="#a8a0b8"/>
<rect x="167.80" y="280.00" width="8.20" height="151.70" fill="#5e9886"/>
<rect x="208.00" y="280.00" width="5.00" height="80.00" fill="#5e9886"/>
<rect x="208.00" y="360.00" width="5.00" height="71.70" fill="#6a8496"/>
<polygon points="207.00,383.70 192.60,417.00 192.60,431.70 208.00,431.70 208.00,383.70" fill="#7f8a88"/>
<polygon points="167.80,491.70 175.00,496.30 167.80,496.30" fill="#7a6ab8"/>
<rect x="221.90" y="2.90" width="45.20" height="4.40" fill="#fce59a"/>
<rect x="221.90" y="2.90" width="23.10" height="4.40" fill="#f26522"/>
<rect x="221.90" y="7.30" width="45.20" height="1.70" fill="#9a8ac0"/>
<rect x="221.90" y="9.00" width="45.20" height="1.50" fill="#808090"/>
<rect x="221.90" y="10.50" width="45.20" height="9.80" fill="#2479c1"/>
<rect x="221.90" y="20.30" width="45.20" height="1.70" fill="#5a8a8a"/>
<rect x="221.90" y="22.00" width="45.20" height="9.30" fill="#f26522"/>
<rect x="221.90" y="31.30" width="45.20" height="1.40" fill="#a04020"/>
<rect x="221.90" y="32.70" width="45.20" height="3.60" fill="#fcc98f"/>
<rect x="221.90" y="32.70" width="13.10" height="3.60" fill="#1b9e77"/>
<rect x="221.90" y="36.30" width="45.20" height="3.70" fill="#f05a28"/>
<rect x="221.90" y="40.00" width="45.20" height="0.70" fill="#e0e0e0"/>
<rect x="221.90" y="40.70" width="45.20" height="30.50" fill="#fb0d8b"/>
<rect x="221.90" y="71.20" width="45.20" height="7.10" fill="#2ea57f"/>
<rect x="221.90" y="78.30" width="45.20" height="1.50" fill="#8a70b0"/>
<rect x="250.00" y="78.30" width="17.10" height="1.50" fill="#e04090"/>
<rect x="221.90" y="79.80" width="45.20" height="2.00" fill="#2ea57f"/>
<rect x="221.90" y="79.80" width="23.10" height="2.00" fill="#e0503a"/>
<rect x="221.90" y="81.80" width="45.20" height="2.20" fill="#2ea57f"/>
<rect x="221.90" y="84.00" width="45.20" height="2.40" fill="#2ea57f"/>
<rect x="240.00" y="84.00" width="27.10" height="2.40" fill="#b8a0c8"/>
<rect x="221.90" y="86.40" width="45.20" height="1.60" fill="#2ea57f"/>
<rect x="221.90" y="86.40" width="23.10" height="1.60" fill="#e02040"/>
<rect x="221.90" y="88.00" width="45.20" height="2.50" fill="#fdc086"/>
<rect x="221.90" y="90.50" width="45.20" height="1.50" fill="#2ea57f"/>
<rect x="221.90" y="90.50" width="4.10" height="1.50" fill="#e02050"/>
<rect x="221.90" y="92.00" width="45.20" height="28.00" fill="#2ea57f"/>
<rect x="221.90" y="120.00" width="45.20" height="1.50" fill="#5a8a80"/>
<rect x="221.90" y="120.00" width="8.10" height="1.50" fill="#e04050"/>
<rect x="255.00" y="120.00" width="12.10" height="1.50" fill="#b8e0a0"/>
<rect x="221.90" y="121.50" width="45.20" height="6.00" fill="#2ea57f"/>
<rect x="221.90" y="127.50" width="45.20" height="2.00" fill="#fff5c0"/>
<rect x="221.90" y="129.50" width="45.20" height="3.00" fill="#f01a64"/>
<rect x="221.90" y="129.50" width="6.10" height="3.00" fill="#f08040"/>
<rect x="221.90" y="132.50" width="45.20" height="2.10" fill="#2ea57f"/>
<rect x="221.90" y="134.60" width="45.20" height="304.40" fill="#2ea57f"/>
<rect x="221.90" y="439.00" width="45.20" height="2.90" fill="#9a8a60"/>
<rect x="240.00" y="439.00" width="22.00" height="2.90" fill="#7a5ab0"/>
<rect x="221.90" y="441.90" width="45.20" height="4.30" fill="#b0a860"/>
<rect x="221.90" y="446.20" width="45.20" height="2.20" fill="#9aa850"/>
<rect x="221.90" y="448.40" width="45.20" height="2.90" fill="#6a6ab8"/>
<rect x="221.90" y="451.30" width="45.20" height="12.60" fill="#c3b2e0"/>
<rect x="221.90" y="463.90" width="45.20" height="3.10" fill="#a8c8d8"/>
<rect x="221.90" y="467.00" width="45.20" height="4.60" fill="#5a7a6a"/>
<rect x="221.90" y="471.60" width="45.20" height="6.20" fill="#2a9a82"/>
<rect x="221.90" y="477.80" width="45.20" height="2.20" fill="#b8f080"/>
<rect x="221.90" y="480.00" width="45.20" height="15.50" fill="#8ecf8c"/>
<rect x="221.90" y="495.50" width="45.20" height="7.00" fill="#6a6ab0"/>
<rect x="221.90" y="502.50" width="45.20" height="9.20" fill="#80808c"/>
<rect x="221.90" y="511.70" width="45.20" height="3.90" fill="#6a9a7a"/>
<rect x="221.90" y="515.60" width="45.20" height="1.40" fill="#e0f0a0"/>
<rect x="221.90" y="517.00" width="45.20" height="11.00" fill="#fbf38c"/>
<rect x="221.90" y="528.00" width="45.20" height="1.60" fill="#f4ee90"/>
<rect x="221.90" y="528.00" width="9.10" height="1.60" fill="#505060"/>
<clipPath id="c475"><polygon points="221.90,53.80 227.70,61.00 235.00,68.30 236.00,71.20 221.90,71.20"/></clipPath><g clip-path="url(#c475)">
<rect x="221.90" y="53.80" width="45.20" height="1.30" fill="#fb0d8b"/>
<rect x="221.90" y="55.10" width="45.20" height="1.30" fill="#8a5ab0"/>
<rect x="221.90" y="56.40" width="45.20" height="1.30" fill="#fb0d8b"/>
<rect x="221.90" y="57.70" width="45.20" height="1.30" fill="#2a9a80"/>
<rect x="221.90" y="59.00" width="45.20" height="1.30" fill="#d070b0"/>
<rect x="221.90" y="60.30" width="45.20" height="1.30" fill="#fb0d8b"/>
<rect x="221.90" y="61.60" width="45.20" height="1.30" fill="#8a5ab0"/>
<rect x="221.90" y="62.90" width="45.20" height="1.30" fill="#fb0d8b"/>
<rect x="221.90" y="64.20" width="45.20" height="1.30" fill="#2a9a80"/>
<rect x="221.90" y="65.50" width="45.20" height="1.30" fill="#d070b0"/>
<rect x="221.90" y="66.80" width="45.20" height="1.30" fill="#fb0d8b"/>
<rect x="221.90" y="68.10" width="45.20" height="1.30" fill="#8a5ab0"/>
<rect x="221.90" y="69.40" width="45.20" height="1.30" fill="#fb0d8b"/>
<rect x="221.90" y="70.70" width="45.20" height="0.50" fill="#2a9a80"/>
</g>
<clipPath id="c491"><polygon points="267.10,53.80 258.00,61.00 251.00,68.30 248.00,71.20 267.10,71.20"/></clipPath><g clip-path="url(#c491)">
<rect x="221.90" y="53.80" width="45.20" height="1.30" fill="#2aa080"/>
<rect x="221.90" y="55.10" width="45.20" height="1.30" fill="#fb0d8b"/>
<rect x="221.90" y="56.40" width="45.20" height="1.30" fill="#b8e8a0"/>
<rect x="221.90" y="57.70" width="45.20" height="1.30" fill="#f0f0f0"/>
<rect x="221.90" y="59.00" width="45.20" height="1.30" fill="#fb0d8b"/>
<rect x="221.90" y="60.30" width="45.20" height="1.30" fill="#60c0a0"/>
<rect x="221.90" y="61.60" width="45.20" height="1.30" fill="#2aa080"/>
<rect x="221.90" y="62.90" width="45.20" height="1.30" fill="#fb0d8b"/>
<rect x="221.90" y="64.20" width="45.20" height="1.30" fill="#b8e8a0"/>
<rect x="221.90" y="65.50" width="45.20" height="1.30" fill="#f0f0f0"/>
<rect x="221.90" y="66.80" width="45.20" height="1.30" fill="#fb0d8b"/>
<rect x="221.90" y="68.10" width="45.20" height="1.30" fill="#60c0a0"/>
<rect x="221.90" y="69.40" width="45.20" height="1.30" fill="#2aa080"/>
<rect x="221.90" y="70.70" width="45.20" height="0.50" fill="#fb0d8b"/>
</g>
<rect x="256.00" y="280.00" width="11.10" height="95.00" fill="#4a9c86"/>
<rect x="256.00" y="375.00" width="11.10" height="64.00" fill="#52948c"/>
<clipPath id="c509"><polygon points="267.10,395.00 265.00,410.00 262.60,418.60 259.00,423.00 256.50,428.00 255.00,439.00 267.10,439.00"/></clipPath><g clip-path="url(#c509)">
<rect x="221.90" y="395.00" width="45.20" height="1.30" fill="#c8e890"/>
<rect x="221.90" y="396.30" width="45.20" height="1.30" fill="#90a890"/>
<rect x="221.90" y="397.60" width="45.20" height="1.30" fill="#e0f0c0"/>
<rect x="221.90" y="398.90" width="45.20" height="1.30" fill="#7a9a90"/>
<rect x="221.90" y="400.20" width="45.20" height="1.30" fill="#d0ec90"/>
<rect x="221.90" y="401.50" width="45.20" height="1.30" fill="#c8e890"/>
<rect x="221.90" y="402.80" width="45.20" height="1.30" fill="#90a890"/>
<rect x="221.90" y="404.10" width="45.20" height="1.30" fill="#e0f0c0"/>
<rect x="221.90" y="405.40" width="45.20" height="1.30" fill="#7a9a90"/>
<rect x="221.90" y="406.70" width="45.20" height="1.30" fill="#d0ec90"/>
<rect x="221.90" y="408.00" width="45.20" height="1.30" fill="#c8e890"/>
<rect x="221.90" y="409.30" width="45.20" height="1.30" fill="#90a890"/>
<rect x="221.90" y="410.60" width="45.20" height="1.30" fill="#e0f0c0"/>
<rect x="221.90" y="411.90" width="45.20" height="1.30" fill="#7a9a90"/>
<rect x="221.90" y="413.20" width="45.20" height="1.30" fill="#d0ec90"/>
<rect x="221.90" y="414.50" width="45.20" height="1.30" fill="#c8e890"/>
<rect x="221.90" y="415.80" width="45.20" height="1.30" fill="#90a890"/>
<rect x="221.90" y="417.10" width="45.20" height="1.30" fill="#e0f0c0"/>
<rect x="221.90" y="418.40" width="45.20" height="1.30" fill="#7a9a90"/>
<rect x="221.90" y="419.70" width="45.20" height="1.30" fill="#d0ec90"/>
<rect x="221.90" y="421.00" width="45.20" height="1.30" fill="#c8e890"/>
<rect x="221.90" y="422.30" width="45.20" height="1.30" fill="#90a890"/>
<rect x="221.90" y="423.60" width="45.20" height="1.30" fill="#e0f0c0"/>
<rect x="221.90" y="424.90" width="45.20" height="1.30" fill="#7a9a90"/>
<rect x="221.90" y="426.20" width="45.20" height="1.30" fill="#d0ec90"/>
<rect x="221.90" y="427.50" width="45.20" height="1.30" fill="#c8e890"/>
<rect x="221.90" y="428.80" width="45.20" height="1.30" fill="#90a890"/>
<rect x="221.90" y="430.10" width="45.20" height="1.30" fill="#e0f0c0"/>
<rect x="221.90" y="431.40" width="45.20" height="1.30" fill="#7a9a90"/>
<rect x="221.90" y="432.70" width="45.20" height="1.30" fill="#d0ec90"/>
<rect x="221.90" y="434.00" width="45.20" height="1.30" fill="#c8e890"/>
<rect x="221.90" y="435.30" width="45.20" height="1.30" fill="#90a890"/>
<rect x="221.90" y="436.60" width="45.20" height="1.30" fill="#e0f0c0"/>
<rect x="221.90" y="437.90" width="45.20" height="1.10" fill="#7a9a90"/>
</g>
<rect x="221.90" y="431.70" width="3.10" height="7.30" fill="#9a8a40"/>
<polygon points="267.10,114.00 267.10,120.00 255.00,120.00" fill="#a8dca0"/>
<rect x="276.00" y="2.90" width="45.20" height="3.60" fill="#fef59b"/>
<rect x="276.00" y="6.50" width="45.20" height="4.00" fill="#fef59b"/>
<rect x="276.00" y="6.50" width="36.00" height="4.00" fill="#1f78b4"/>
<rect x="276.00" y="10.50" width="45.20" height="9.80" fill="#fdbf8a"/>
<rect x="276.00" y="20.30" width="45.20" height="1.50" fill="#6a9a78"/>
<rect x="276.00" y="20.30" width="24.00" height="1.50" fill="#2a7ab0"/>
<rect x="276.00" y="21.80" width="45.20" height="10.20" fill="#fef59b"/>
<rect x="276.00" y="32.00" width="45.20" height="4.30" fill="#1f78b4"/>
<rect x="276.00" y="36.30" width="45.20" height="4.10" fill="#c3b1e1"/>
<rect x="276.00" y="36.30" width="26.00" height="4.10" fill="#fef59b"/>
<rect x="276.00" y="40.40" width="45.20" height="1.00" fill="#306030"/>
<rect x="276.00" y="41.40" width="45.20" height="31.30" fill="#82c97f"/>
<rect x="276.00" y="72.70" width="45.20" height="5.80" fill="#2479c1"/>
<rect x="276.00" y="78.50" width="45.20" height="1.50" fill="#2479c1"/>
<rect x="276.00" y="80.00" width="45.20" height="3.70" fill="#f4e4a0"/>
<rect x="300.00" y="80.00" width="21.20" height="3.70" fill="#f4c8a8"/>
<rect x="276.00" y="83.70" width="45.20" height="42.90" fill="#2479c1"/>
<rect x="276.00" y="126.60" width="45.20" height="3.60" fill="#82c97f"/>
<rect x="276.00" y="126.60" width="19.00" height="3.60" fill="#2479c1"/>
<rect x="276.00" y="130.20" width="45.20" height="5.10" fill="#fdf59a"/>
<rect x="276.00" y="135.30" width="45.20" height="144.70" fill="#2a80c4"/>
<rect x="276.00" y="280.00" width="45.20" height="162.00" fill="#2a80c4"/>
<rect x="276.00" y="280.00" width="12.00" height="162.00" fill="#2e76c2"/>
<rect x="276.00" y="442.00" width="45.20" height="2.80" fill="#2a80c4"/>
<rect x="305.00" y="442.00" width="16.20" height="2.80" fill="#b8e890"/>
<rect x="276.00" y="444.80" width="45.20" height="2.90" fill="#8fd98a"/>
<rect x="276.00" y="447.70" width="45.20" height="2.20" fill="#a0c0d0"/>
<rect x="276.00" y="449.90" width="45.20" height="2.10" fill="#c0e080"/>
<rect x="276.00" y="452.00" width="45.20" height="3.50" fill="#3b5fc0"/>
<rect x="276.00" y="455.50" width="45.20" height="16.10" fill="#2480c6"/>
<rect x="276.00" y="455.50" width="12.00" height="16.10" fill="#3a64c0"/>
<rect x="319.00" y="455.50" width="2.20" height="16.10" fill="#3a64c0"/>
<rect x="276.00" y="471.60" width="45.20" height="6.20" fill="#4060c8"/>
<rect x="276.00" y="477.80" width="45.20" height="1.50" fill="#d0f0a0"/>
<rect x="276.00" y="479.30" width="45.20" height="17.00" fill="#8ccf8a"/>
<rect x="276.00" y="496.30" width="45.20" height="6.20" fill="#3a60c0"/>
<rect x="305.00" y="496.30" width="16.20" height="6.20" fill="#8ccf8a"/>
<rect x="276.00" y="502.50" width="45.20" height="9.20" fill="#c3b3e0"/>
<rect x="276.00" y="511.70" width="45.20" height="4.70" fill="#4a50b0"/>
<rect x="276.00" y="516.40" width="45.20" height="11.60" fill="#fbf38c"/>
<rect x="276.00" y="528.00" width="45.20" height="1.60" fill="#f4ee90"/>
<rect x="276.00" y="528.00" width="14.00" height="1.60" fill="#4050a0"/>
<polygon points="321.20,32.00 321.20,36.30 308.00,36.30" fill="#fef59b"/>
<clipPath id="c590"><polygon points="276.00,66.00 300.00,72.70 276.00,72.70"/></clipPath><g clip-path="url(#c590)">
<rect x="276.00" y="66.00" width="45.20" height="1.20" fill="#2479c1"/>
<rect x="276.00" y="67.20" width="45.20" height="1.20" fill="#c3b1e1"/>
<rect x="276.00" y="68.40" width="45.20" height="1.20" fill="#fdbf8a"/>
<rect x="276.00" y="69.60" width="45.20" height="1.20" fill="#2479c1"/>
<rect x="276.00" y="70.80" width="45.20" height="1.20" fill="#c3b1e1"/>
<rect x="276.00" y="72.00" width="45.20" height="0.70" fill="#fdbf8a"/>
</g>
<polygon points="321.20,87.40 321.20,91.70 300.00,91.70 310.00,88.50" fill="#ecec98"/>
<polygon points="321.20,77.00 321.20,80.00 300.00,80.00" fill="#a8d890"/>
<polygon points="321.20,118.60 321.20,121.00 295.00,121.00" fill="#f0d0b0"/>
<rect x="304.00" y="425.00" width="17.20" height="17.00" fill="#4060c0"/>
<clipPath id="c602"><polygon points="321.20,404.00 319.00,418.60 312.00,433.00 304.00,440.40 302.00,442.00 321.20,442.00"/></clipPath><g clip-path="url(#c602)">
<rect x="276.00" y="404.00" width="45.20" height="1.40" fill="#c8e890"/>
<rect x="276.00" y="405.40" width="45.20" height="1.40" fill="#e8f0a0"/>
<rect x="276.00" y="406.80" width="45.20" height="1.40" fill="#a8d890"/>
<rect x="276.00" y="408.20" width="45.20" height="1.40" fill="#c8e890"/>
<rect x="276.00" y="409.60" width="45.20" height="1.40" fill="#e8f0a0"/>
<rect x="276.00" y="411.00" width="45.20" height="1.40" fill="#a8d890"/>
<rect x="276.00" y="412.40" width="45.20" height="1.40" fill="#c8e890"/>
<rect x="276.00" y="413.80" width="45.20" height="1.40" fill="#e8f0a0"/>
<rect x="276.00" y="415.20" width="45.20" height="1.40" fill="#a8d890"/>
<rect x="276.00" y="416.60" width="45.20" height="1.40" fill="#c8e890"/>
<rect x="276.00" y="418.00" width="45.20" height="1.40" fill="#e8f0a0"/>
<rect x="276.00" y="419.40" width="45.20" height="1.40" fill="#a8d890"/>
<rect x="276.00" y="420.80" width="45.20" height="1.40" fill="#c8e890"/>
<rect x="276.00" y="422.20" width="45.20" height="1.40" fill="#e8f0a0"/>
<rect x="276.00" y="423.60" width="45.20" height="1.40" fill="#a8d890"/>
<rect x="276.00" y="425.00" width="45.20" height="1.40" fill="#c8e890"/>
<rect x="276.00" y="426.40" width="45.20" height="1.40" fill="#e8f0a0"/>
<rect x="276.00" y="427.80" width="45.20" height="1.40" fill="#a8d890"/>
<rect x="276.00" y="429.20" width="45.20" height="1.40" fill="#c8e890"/>
<rect x="276.00" y="430.60" width="45.20" height="1.40" fill="#e8f0a0"/>
<rect x="276.00" y="432.00" width="45.20" height="1.40" fill="#a8d890"/>
<rect x="276.00" y="433.40" width="45.20" height="1.40" fill="#c8e890"/>
<rect x="276.00" y="434.80" width="45.20" height="1.40" fill="#e8f0a0"/>
<rect x="276.00" y="436.20" width="45.20" height="1.40" fill="#a8d890"/>
<rect x="276.00" y="437.60" width="45.20" height="1.40" fill="#c8e890"/>
<rect x="276.00" y="439.00" width="45.20" height="1.40" fill="#e8f0a0"/>
<rect x="276.00" y="440.40" width="45.20" height="1.40" fill="#a8d890"/>
<rect x="276.00" y="441.80" width="45.20" height="0.20" fill="#c8e890"/>
</g>
<polygon points="276.00,481.00 288.00,488.00 276.00,495.00" fill="#d8dcb8"/>
<rect x="330.30" y="2.90" width="45.20" height="4.10" fill="#c1b3dd"/>
<rect x="330.30" y="7.00" width="45.20" height="523.00" fill="#82c97f"/>
<rect x="330.30" y="7.60" width="9.70" height="2.30" fill="#c1b3dd"/>
<rect x="330.30" y="10.50" width="15.70" height="9.90" fill="#c1b3dd"/>
<rect x="330.30" y="21.80" width="45.20" height="10.20" fill="#c1b3dd"/>
<rect x="330.30" y="33.80" width="9.70" height="1.90" fill="#c1b3dd"/>
<rect x="330.30" y="36.70" width="30.70" height="2.90" fill="#c1b3dd"/>
<polygon points="330.30,80.80 336.00,80.80 334.00,84.00 360.00,86.00 334.00,87.00 330.30,89.60" fill="#c1b3dd"/>
<polygon points="330.30,117.00 334.00,121.60 330.30,121.60" fill="#c1b3dd"/>
<polygon points="330.30,380.00 332.00,380.00 333.00,405.00 335.00,418.00 337.00,426.00 340.50,433.80 346.00,438.00 355.00,440.30 375.50,441.20 375.50,444.30 330.30,444.30" fill="#a8cce4"/>
<polygon points="330.30,392.00 332.00,410.00 334.00,424.00 337.00,432.00 342.00,437.50 375.50,442.30 375.50,444.30 330.30,444.30" fill="#c1b3dd"/>
<rect x="369.00" y="280.00" width="6.50" height="250.00" fill="#8cc682"/>
<rect x="330.30" y="452.00" width="5.70" height="50.00" fill="#a8c878"/>
<rect x="330.30" y="445.30" width="7.70" height="6.70" fill="#c1b3dd"/>
<rect x="330.30" y="502.00" width="14.70" height="11.40" fill="#c1b3dd"/>
<rect x="330.30" y="506.00" width="10.70" height="7.40" fill="#a8c8e0"/>
<rect x="330.30" y="516.30" width="45.20" height="13.70" fill="#c1b3dd"/>
<rect x="59.10" y="7" width="45.20" height="1" fill="#404040" fill-opacity="0.3"/>
<rect x="59.10" y="10" width="45.20" height="1" fill="#404040" fill-opacity="0.3"/>
<rect x="59.10" y="20" width="45.20" height="1" fill="#404040" fill-opacity="0.3"/>
<rect x="59.10" y="32" width="45.20" height="1" fill="#404040" fill-opacity="0.3"/>
<rect x="59.10" y="35" width="45.20" height="1" fill="#404040" fill-opacity="0.3"/>
<rect x="59.10" y="39" width="45.20" height="1" fill="#404040" fill-opacity="0.3"/>
<rect x="59.10" y="80" width="45.20" height="1" fill="#404040" fill-opacity="0.3"/>
<rect x="59.10" y="87" width="45.20" height="1" fill="#404040" fill-opacity="0.3"/>
<rect x="59.10" y="90" width="45.20" height="1" fill="#404040" fill-opacity="0.3"/>
<rect x="59.10" y="122" width="45.20" height="1" fill="#404040" fill-opacity="0.3"/>
<rect x="59.10" y="127" width="45.20" height="1" fill="#404040" fill-opacity="0.3"/>
<rect x="59.10" y="445" width="45.20" height="1" fill="#404040" fill-opacity="0.3"/>
<rect x="59.10" y="452" width="45.20" height="1" fill="#404040" fill-opacity="0.3"/>
<rect x="59.10" y="471" width="45.20" height="1" fill="#404040" fill-opacity="0.3"/>
<rect x="59.10" y="477" width="45.20" height="1" fill="#404040" fill-opacity="0.3"/>
<rect x="59.10" y="479" width="45.20" height="1" fill="#404040" fill-opacity="0.3"/>
<rect x="59.10" y="502" width="45.20" height="1" fill="#404040" fill-opacity="0.3"/>
<rect x="59.10" y="513" width="45.20" height="1" fill="#404040" fill-opacity="0.3"/>
<rect x="59.10" y="516" width="45.20" height="1" fill="#404040" fill-opacity="0.3"/>
<rect x="113.30" y="7" width="45.20" height="1" fill="#404040" fill-opacity="0.3"/>
<rect x="113.30" y="10" width="45.20" height="1" fill="#404040" fill-opacity="0.3"/>
<rect x="113.30" y="20" width="45.20" height="1" fill="#404040" fill-opacity="0.3"/>
<rect x="113.30" y="32" width="45.20" height="1" fill="#404040" fill-opacity="0.3"/>
<rect x="113.30" y="35" width="45.20" height="1" fill="#404040" fill-opacity="0.3"/>
<rect x="113.30" y="39" width="45.20" height="1" fill="#404040" fill-opacity="0.3"/>
<rect x="113.30" y="80" width="45.20" height="1" fill="#404040" fill-opacity="0.3"/>
<rect x="113.30" y="87" width="45.20" height="1" fill="#404040" fill-opacity="0.3"/>
<rect x="113.30" y="90" width="45.20" height="1" fill="#404040" fill-opacity="0.3"/>
<rect x="113.30" y="122" width="45.20" height="1" fill="#404040" fill-opacity="0.3"/>
<rect x="113.30" y="127" width="45.20" height="1" fill="#404040" fill-opacity="0.3"/>
<rect x="113.30" y="445" width="45.20" height="1" fill="#404040" fill-opacity="0.3"/>
<rect x="113.30" y="452" width="45.20" height="1" fill="#404040" fill-opacity="0.3"/>
<rect x="113.30" y="471" width="45.20" height="1" fill="#404040" fill-opacity="0.3"/>
<rect x="113.30" y="477" width="45.20" height="1" fill="#404040" fill-opacity="0.3"/>
<rect x="113.30" y="479" width="45.20" height="1" fill="#404040" fill-opacity="0.3"/>
<rect x="113.30" y="502" width="45.20" height="1" fill="#404040" fill-opacity="0.3"/>
<rect x="113.30" y="513" width="45.20" height="1" fill="#404040" fill-opacity="0.3"/>
<rect x="113.30" y="516" width="45.20" height="1" fill="#404040" fill-opacity="0.3"/>
<rect x="167.80" y="7" width="45.20" height="1" fill="#404040" fill-opacity="0.3"/>
<rect x="167.80" y="10" width="45.20" height="1" fill="#404040" fill-opacity="0.3"/>
<rect x="167.80" y="20" width="45.20" height="1" fill="#404040" fill-opacity="0.3"/>
<rect x="167.80" y="32" width="45.20" height="1" fill="#404040" fill-opacity="0.3"/>
<rect x="167.80" y="35" width="45.20" height="1" fill="#404040" fill-opacity="0.3"/>
<rect x="167.80" y="39" width="45.20" height="1" fill="#404040" fill-opacity="0.3"/>
<rect x="167.80" y="80" width="45.20" height="1" fill="#404040" fill-opacity="0.3"/>
<rect x="167.80" y="87" width="45.20" height="1" fill="#404040" fill-opacity="0.3"/>
<rect x="167.80" y="90" width="45.20" height="1" fill="#404040" fill-opacity="0.3"/>
<rect x="167.80" y="122" width="45.20" height="1" fill="#404040" fill-opacity="0.3"/>
<rect x="167.80" y="127" width="45.20" height="1" fill="#404040" fill-opacity="0.3"/>
<rect x="167.80" y="445" width="45.20" height="1" fill="#404040" fill-opacity="0.3"/>
<rect x="167.80" y="452" width="45.20" height="1" fill="#404040" fill-opacity="0.3"/>
<rect x="167.80" y="471" width="45.20" height="1" fill="#404040" fill-opacity="0.3"/>
<rect x="167.80" y="477" width="45.20" height="1" fill="#404040" fill-opacity="0.3"/>
<rect x="167.80" y="479" width="45.20" height="1" fill="#404040" fill-opacity="0.3"/>
<rect x="167.80" y="502" width="45.20" height="1" fill="#404040" fill-opacity="0.3"/>
<rect x="167.80" y="513" width="45.20" height="1" fill="#404040" fill-opacity="0.3"/>
<rect x="167.80" y="516" width="45.20" height="1" fill="#404040" fill-opacity="0.3"/>
<rect x="221.90" y="7" width="45.20" height="1" fill="#404040" fill-opacity="0.3"/>
<rect x="221.90" y="10" width="45.20" height="1" fill="#404040" fill-opacity="0.3"/>
<rect x="221.90" y="20" width="45.20" height="1" fill="#404040" fill-opacity="0.3"/>
<rect x="221.90" y="32" width="45.20" height="1" fill="#404040" fill-opacity="0.3"/>
<rect x="221.90" y="35" width="45.20" height="1" fill="#404040" fill-opacity="0.3"/>
<rect x="221.90" y="39" width="45.20" height="1" fill="#404040" fill-opacity="0.3"/>
<rect x="221.90" y="80" width="45.20" height="1" fill="#404040" fill-opacity="0.3"/>
<rect x="221.90" y="87" width="45.20" height="1" fill="#404040" fill-opacity="0.3"/>
<rect x="221.90" y="90" width="45.20" height="1" fill="#404040" fill-opacity="0.3"/>
<rect x="221.90" y="122" width="45.20" height="1" fill="#404040" fill-opacity="0.3"/>
<rect x="221.90" y="127" width="45.20" height="1" fill="#404040" fill-opacity="0.3"/>
<rect x="221.90" y="445" width="45.20" height="1" fill="#404040" fill-opacity="0.3"/>
<rect x="221.90" y="452" width="45.20" height="1" fill="#404040" fill-opacity="0.3"/>
<rect x="221.90" y="471" width="45.20" height="1" fill="#404040" fill-opacity="0.3"/>
<rect x="221.90" y="477" width="45.20" height="1" fill="#404040" fill-opacity="0.3"/>
<rect x="221.90" y="479" width="45.20" height="1" fill="#404040" fill-opacity="0.3"/>
<rect x="221.90" y="502" width="45.20" height="1" fill="#404040" fill-opacity="0.3"/>
<rect x="221.90" y="513" width="45.20" height="1" fill="#404040" fill-opacity="0.3"/>
<rect x="221.90" y="516" width="45.20" height="1" fill="#404040" fill-opacity="0.3"/>
<rect x="276.00" y="7" width="45.20" height="1" fill="#404040" fill-opacity="0.3"/>
<rect x="276.00" y="10" width="45.20" height="1" fill="#404040" fill-opacity="0.3"/>
<rect x="276.00" y="20" width="45.20" height="1" fill="#404040" fill-opacity="0.3"/>
<rect x="276.00" y="32" width="45.20" height="1" fill="#404040" fill-opacity="0.3"/>
<rect x="276.00" y="35" width="45.20" height="1" fill="#404040" fill-opacity="0.3"/>
<rect x="276.00" y="39" width="45.20" height="1" fill="#404040" fill-opacity="0.3"/>
<rect x="276.00" y="80" width="45.20" height="1" fill="#404040" fill-opacity="0.3"/>
<rect x="276.00" y="87" width="45.20" height="1" fill="#404040" fill-opacity="0.3"/>
<rect x="276.00" y="90" width="45.20" height="1" fill="#404040" fill-opacity="0.3"/>
<rect x="276.00" y="122" width="45.20" height="1" fill="#404040" fill-opacity="0.3"/>
<rect x="276.00" y="127" width="45.20" height="1" fill="#404040" fill-opacity="0.3"/>
<rect x="276.00" y="445" width="45.20" height="1" fill="#404040" fill-opacity="0.3"/>
<rect x="276.00" y="452" width="45.20" height="1" fill="#404040" fill-opacity="0.3"/>
<rect x="276.00" y="471" width="45.20" height="1" fill="#404040" fill-opacity="0.3"/>
<rect x="276.00" y="477" width="45.20" height="1" fill="#404040" fill-opacity="0.3"/>
<rect x="276.00" y="479" width="45.20" height="1" fill="#404040" fill-opacity="0.3"/>
<rect x="276.00" y="502" width="45.20" height="1" fill="#404040" fill-opacity="0.3"/>
<rect x="276.00" y="513" width="45.20" height="1" fill="#404040" fill-opacity="0.3"/>
<rect x="276.00" y="516" width="45.20" height="1" fill="#404040" fill-opacity="0.3"/>
<rect x="330.30" y="7" width="45.20" height="1" fill="#404040" fill-opacity="0.3"/>
<rect x="330.30" y="10" width="45.20" height="1" fill="#404040" fill-opacity="0.3"/>
<rect x="330.30" y="20" width="45.20" height="1" fill="#404040" fill-opacity="0.3"/>
<rect x="330.30" y="32" width="45.20" height="1" fill="#404040" fill-opacity="0.3"/>
<rect x="330.30" y="35" width="45.20" height="1" fill="#404040" fill-opacity="0.3"/>
<rect x="330.30" y="39" width="45.20" height="1" fill="#404040" fill-opacity="0.3"/>
<rect x="330.30" y="80" width="45.20" height="1" fill="#404040" fill-opacity="0.3"/>
<rect x="330.30" y="87" width="45.20" height="1" fill="#404040" fill-opacity="0.3"/>
<rect x="330.30" y="90" width="45.20" height="1" fill="#404040" fill-opacity="0.3"/>
<rect x="330.30" y="122" width="45.20" height="1" fill="#404040" fill-opacity="0.3"/>
<rect x="330.30" y="127" width="45.20" height="1" fill="#404040" fill-opacity="0.3"/>
<rect x="330.30" y="445" width="45.20" height="1" fill="#404040" fill-opacity="0.3"/>
<rect x="330.30" y="452" width="45.20" height="1" fill="#404040" fill-opacity="0.3"/>
<rect x="330.30" y="471" width="45.20" height="1" fill="#404040" fill-opacity="0.3"/>
<rect x="330.30" y="477" width="45.20" height="1" fill="#404040" fill-opacity="0.3"/>
<rect x="330.30" y="479" width="45.20" height="1" fill="#404040" fill-opacity="0.3"/>
<rect x="330.30" y="502" width="45.20" height="1" fill="#404040" fill-opacity="0.3"/>
<rect x="330.30" y="513" width="45.20" height="1" fill="#404040" fill-opacity="0.3"/>
<rect x="330.30" y="516" width="45.20" height="1" fill="#404040" fill-opacity="0.3"/></g>
</g>
<g class="lab" shape-rendering="auto" opacity="0.99"><text x="31.10" y="6.85" textLength="18.5" lengthAdjust="spacingAndGlyphs">Tonkinese</text>
<text x="29.10" y="10.45" textLength="20.5" lengthAdjust="spacingAndGlyphs">Abyssinian</text>
<text x="37.10" y="17.85" textLength="12.5" lengthAdjust="spacingAndGlyphs">Bengal</text>
<text x="32.90" y="29.05" textLength="16.7" lengthAdjust="spacingAndGlyphs">Burmese</text>
<text x="36.20" y="36.05" textLength="13.4" lengthAdjust="spacingAndGlyphs">Sphynx</text>
<text x="36.20" y="39.45" textLength="13.4" lengthAdjust="spacingAndGlyphs">Birman</text>
<text x="18.90" y="61.85" textLength="30.7" lengthAdjust="spacingAndGlyphs">British shorthair</text>
<text x="38.90" y="86.15" textLength="10.7" lengthAdjust="spacingAndGlyphs">Cross</text>
<text x="28.60" y="90.95" textLength="21.0" lengthAdjust="spacingAndGlyphs">Devon Rex</text>
<text x="14.60" y="108.05" textLength="35.0" lengthAdjust="spacingAndGlyphs">Domestic longhair</text>
<text x="2.60" y="126.75" textLength="47.0" lengthAdjust="spacingAndGlyphs">Domestic semi-longhair</text>
<text x="13.00" y="288.15" textLength="36.6" lengthAdjust="spacingAndGlyphs">Domestic shorthair</text>
<text x="37.60" y="450.65" textLength="12.0" lengthAdjust="spacingAndGlyphs">Exotic</text>
<text x="27.40" y="463.85" textLength="22.2" lengthAdjust="spacingAndGlyphs">Maine coon</text>
<text x="9.40" y="476.35" textLength="40.2" lengthAdjust="spacingAndGlyphs">Norwegian forest cat</text>
<text x="34.60" y="480.65" textLength="15.0" lengthAdjust="spacingAndGlyphs">Oriental</text>
<text x="35.60" y="493.75" textLength="14.0" lengthAdjust="spacingAndGlyphs">Persian</text>
<text x="35.30" y="509.55" textLength="14.3" lengthAdjust="spacingAndGlyphs">Ragdoll</text>
<text x="24.60" y="516.65" textLength="25.0" lengthAdjust="spacingAndGlyphs">Russian blue</text>
<text x="33.00" y="525.55" textLength="16.6" lengthAdjust="spacingAndGlyphs">Siamese</text>
<text x="33.90" y="534.15" textLength="15.7" lengthAdjust="spacingAndGlyphs">Siberian</text></g>
<g class="kl" shape-rendering="auto" opacity="0.99"><text x="64.0" y="542.8" textLength="21.0" lengthAdjust="spacingAndGlyphs">K = 26</text>
<text x="122.0" y="542.8" textLength="21.0" lengthAdjust="spacingAndGlyphs">K = 20</text>
<text x="174.7" y="542.8" textLength="21.0" lengthAdjust="spacingAndGlyphs">K = 15</text>
<text x="229.5" y="542.8" textLength="21.0" lengthAdjust="spacingAndGlyphs">K = 11</text>
<text x="282.5" y="542.8" textLength="17.5" lengthAdjust="spacingAndGlyphs">K = 5</text>
<text x="336.7" y="542.8" textLength="17.9" lengthAdjust="spacingAndGlyphs">K = 2</text></g>
</svg>
</body></html>
